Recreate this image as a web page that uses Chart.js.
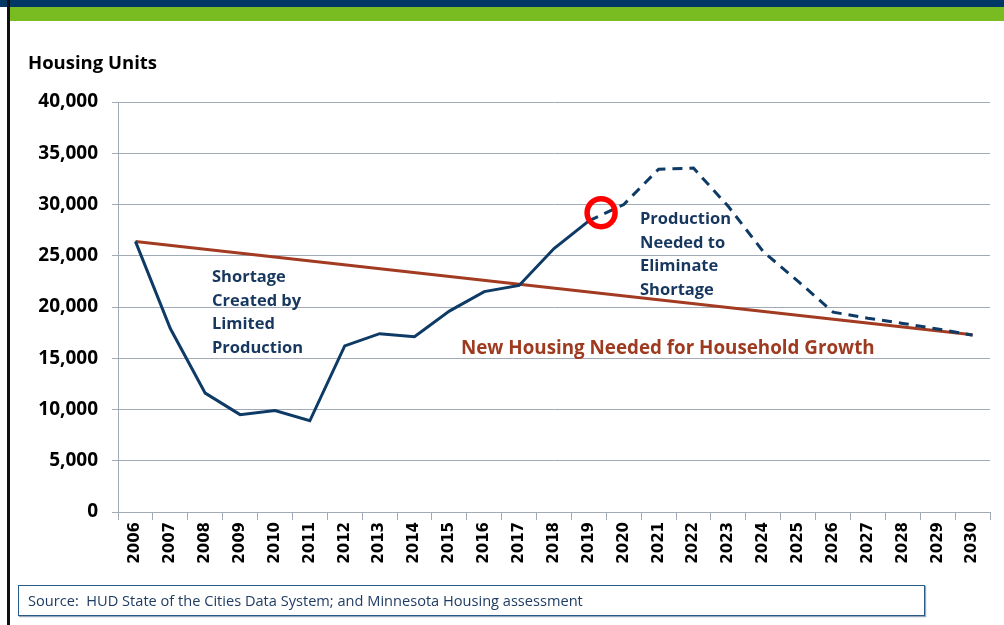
<!DOCTYPE html>
<html>
<head>
<meta charset="utf-8">
<script src="https://cdn.jsdelivr.net/npm/chart.js@4.4.1/dist/chart.umd.min.js"></script>
<style>
  html, body { margin: 0; padding: 0; background: #fff; }
  body { width: 1004px; height: 625px; position: relative; overflow: hidden; font-family: 'Open Sans', sans-serif; }
  #navy { position: absolute; left: 0; top: 0; width: 1004px; height: 7px; background: #003764; }
  #green { position: absolute; left: 10px; top: 7px; width: 994px; height: 14px; background: #78BC21; }
  #edge { position: absolute; left: 7px; top: 0; width: 3px; height: 625px; background: #111; }
  #chart { position: absolute; left: 0; top: 0; }
  #source {
    position: absolute; left: 18px; top: 585px; width: 896px; height: 29px;
    border: 1px solid #2B5A87; box-shadow: 1px 1px 1px #9aa9bb;
    font-size: 14.6px; color: #1F3D64; line-height: 29px; padding-left: 9px; box-sizing: content-box;
  }
</style>
</head>
<body>
<div id="navy"></div>
<div id="green"></div>
<div id="edge"></div>
<canvas id="chart" width="1004" height="625"></canvas>
<div id="source">Source:&nbsp; HUD State of the Cities Data System; and Minnesota Housing assessment</div>
<script>
// categorias (anos)
const years = ['2006', '2007', '2008', '2009', '2010', '2011', '2012', '2013', '2014', '2015', '2016', '2017',
    '2018', '2019', '2020', '2021', '2022', '2023', '2024', '2025', '2026', '2027', '2028', '2029', '2030'];

// produção real (até 2019) e necessária (2019 em diante, tracejada)
const production = [26400, 17900, 11600, 9500, 9900, 8900, 16200, 17400, 17100, 19600, 21500, 22100,
    25700, 28400, 30000, 33450, 33550, 29800, 25400, 22500, 19500, 18900, 18400, 17850, 17250];

// linha reta de necessidade para crescimento de domicílios
const neededYears = ['2006', '2030'];
const neededValues = [26400, 17300];

// marcador vermelho (ano fracionário, valor)
const markerYear = [2019.35];
const markerValue = [29200];

const yTicks = [0, 5000, 10000, 15000, 20000, 25000, 30000, 35000, 40000];
const dashFrom = 13; // índice de 2019

const gridColor = '#A2A9B7';
const navy = '#0E3A66';
const brown = '#A23B21';

// textos sobre o gráfico
const notes = [
    { lines: ['Shortage', 'Created by', 'Limited', 'Production'], x: 212, y: 282, step: 23.5, color: '#17375E', font: 'bold 16.5px "Open Sans"' },
    { lines: ['Production', 'Needed to', 'Eliminate', 'Shortage'], x: 640, y: 224, step: 23.5, color: '#17375E', font: 'bold 16.5px "Open Sans"' },
    { lines: ['New Housing Needed for Household Growth'], x: 461, y: 354, step: 0, color: '#9E3A20', font: 'bold 18.8px "Open Sans"' },
    { lines: ['Housing Units'], x: 28, y: 69, step: 0, color: '#000', font: 'bold 18.5px "Open Sans"' }
];

const notesPlugin = {
    id: 'notes',
    afterDraw(chart) {
        const ctx = chart.ctx;
        ctx.save();
        ctx.textBaseline = 'alphabetic';
        ctx.textAlign = 'left';
        notes.forEach(n => {
            ctx.font = n.font;
            ctx.fillStyle = n.color;
            n.lines.forEach((t, i) => ctx.fillText(t, n.x, n.y + i * n.step));
        });
        ctx.restore();
    }
};

document.addEventListener('DOMContentLoaded', function() {
    const ctx = document.getElementById('chart').getContext('2d');
    new Chart(ctx, {
        type: 'line',
        data: {
            labels: years,
            datasets: [
                {
                    label: 'marker',
                    xAxisID: 'x2',
                    data: markerYear.map((x, i) => ({ x: x, y: markerValue[i] })),
                    showLine: false,
                    pointRadius: 14,
                    pointBorderWidth: 5.5,
                    pointBorderColor: '#FF0000',
                    pointBackgroundColor: 'rgba(0,0,0,0)'
                },
                {
                    label: 'Production',
                    data: production,
                    borderColor: navy,
                    borderWidth: 3,
                    pointRadius: 0,
                    tension: 0,
                    segment: {
                        borderDash: c => c.p0DataIndex >= dashFrom ? [10, 7] : undefined
                    }
                },
                {
                    label: 'New Housing Needed for Household Growth',
                    data: neededYears.map((x, i) => ({ x: x, y: neededValues[i] })),
                    borderColor: brown,
                    borderWidth: 3,
                    pointRadius: 0,
                    tension: 0
                }
            ]
        },
        options: {
            responsive: false,
            animation: false,
            devicePixelRatio: 1,
            layout: { autoPadding: false, padding: { left: 0, top: 102, right: 14, bottom: 0 } },
            scales: {
                x: {
                    type: 'category',
                    offset: true,
                    grid: { offset: true, drawOnChartArea: false, tickLength: 8, color: gridColor },
                    border: { color: gridColor },
                    ticks: {
                        autoSkip: false,
                        maxRotation: 90,
                        minRotation: 90,
                        padding: 2,
                        color: '#000',
                        font: { family: 'DejaVu Sans', weight: 'bold', size: 15 }
                    },
                    afterFit: s => { s.height = 113; s.paddingLeft = 0; s.paddingRight = 0; }
                },
                x2: {
                    type: 'linear',
                    display: false,
                    min: 2005.5,
                    max: 2030.5
                },
                y: {
                    min: 0,
                    max: 40000,
                    grid: { color: gridColor, tickLength: 6 },
                    border: { color: gridColor },
                    afterBuildTicks: s => { s.ticks = yTicks.map(v => ({ value: v })); },
                    ticks: {
                        padding: 14,
                        color: '#000',
                        font: { family: 'Open Sans', weight: 'bold', size: 19 },
                        callback: v => v.toLocaleString('en-US')
                    },
                    afterFit: s => { s.width = 118; }
                }
            },
            plugins: {
                legend: { display: false },
                tooltip: { enabled: false }
            }
        },
        plugins: [notesPlugin]
    });
});
</script>
</body>
</html>
